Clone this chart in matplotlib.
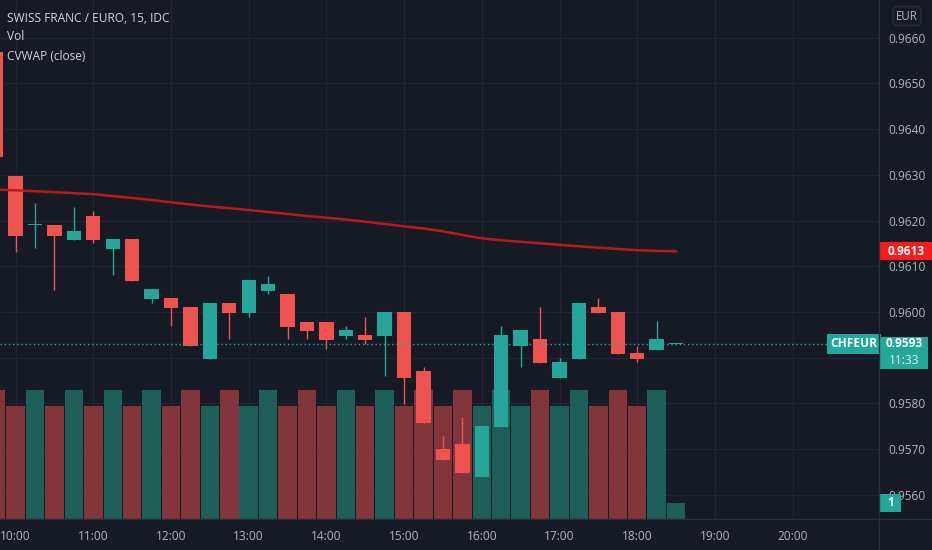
import pandas as pd
import matplotlib
matplotlib.use('Agg')
import matplotlib.pyplot as plt
import matplotlib.dates as mdates
from matplotlib import transforms
from matplotlib.lines import Line2D
from matplotlib.patches import Rectangle

plt.rcParams['font.family'] = ['Open Sans', 'DejaVu Sans']

# 15 min bars, CHF/EUR
times = ['09:45', '10:00', '10:15', '10:30', '10:45', '11:00', '11:15', '11:30', '11:45',
         '12:00', '12:15', '12:30', '12:45', '13:00', '13:15', '13:30', '13:45', '14:00',
         '14:15', '14:30', '14:45', '15:00', '15:15', '15:30', '15:45', '16:00', '16:15',
         '16:30', '16:45', '17:00', '17:15', '17:30', '17:45', '18:00', '18:15', '18:30']
opens = [0.96569, 0.96298, 0.96190, 0.96190, 0.96157, 0.96210, 0.96138, 0.96159, 0.96028,
         0.96030, 0.96010, 0.95897, 0.96020, 0.95998, 0.96047, 0.96039, 0.95979, 0.95979,
         0.95947, 0.95950, 0.95947, 0.96001, 0.95871, 0.95700, 0.95711, 0.95638, 0.95749,
         0.95926, 0.95941, 0.95856, 0.95898, 0.96010, 0.96000, 0.95910, 0.95917, 0.95930]
highs = [0.96569, 0.96298, 0.96238, 0.96190, 0.96230, 0.96220, 0.96159, 0.96159, 0.96050,
         0.96030, 0.96010, 0.96020, 0.96020, 0.96070, 0.96079, 0.96039, 0.95979, 0.95979,
         0.95969, 0.95988, 0.96001, 0.96001, 0.95880, 0.95729, 0.95771, 0.95751, 0.95970,
         0.95960, 0.96012, 0.95900, 0.96020, 0.96030, 0.96000, 0.95926, 0.95980, 0.95930]
lows = [0.96339, 0.96131, 0.96141, 0.96048, 0.96157, 0.96150, 0.96081, 0.96068, 0.96020,
        0.95969, 0.95926, 0.95897, 0.95941, 0.95990, 0.96040, 0.95940, 0.95940, 0.95919,
        0.95940, 0.95930, 0.95860, 0.95799, 0.95758, 0.95676, 0.95648, 0.95638, 0.95749,
        0.95880, 0.95888, 0.95856, 0.95898, 0.95998, 0.95907, 0.95890, 0.95917, 0.95930]
closes = [0.96339, 0.96167, 0.96192, 0.96167, 0.96178, 0.96157, 0.96159, 0.96068, 0.96050,
          0.96008, 0.95926, 0.96020, 0.95998, 0.96070, 0.96061, 0.95968, 0.95958, 0.95939,
          0.95961, 0.95938, 0.96001, 0.95856, 0.95758, 0.95676, 0.95648, 0.95751, 0.95950,
          0.95960, 0.95888, 0.95891, 0.96020, 0.95998, 0.95907, 0.95897, 0.95941, 0.95930]
volumes = [8, 7, 8, 7, 8, 7, 8, 7, 8, 7, 8, 7, 8, 7, 8, 7, 8, 7,
           8, 7, 8, 7, 8, 7, 8, 7, 8, 7, 8, 7, 8, 7, 8, 7, 8, 1]
cvwap = [0.962676, 0.962663, 0.962643, 0.962621, 0.962600, 0.962578, 0.962538, 0.962495,
         0.962451, 0.962400, 0.962352, 0.962309, 0.962270, 0.962232, 0.962188, 0.962144,
         0.962101, 0.962063, 0.962022, 0.961976, 0.961926, 0.961875, 0.961827, 0.961765,
         0.961685, 0.961612, 0.961569, 0.961536, 0.961503, 0.961468, 0.961438, 0.961407,
         0.961379, 0.961352, 0.961337, 0.961328]
price_ticks = [0.9560, 0.9570, 0.9580, 0.9590, 0.9600, 0.9610, 0.9620, 0.9630,
               0.9640, 0.9650, 0.9660]
hour_ticks = ['10:00', '11:00', '12:00', '13:00', '14:00', '15:00', '16:00', '17:00',
              '18:00', '19:00', '20:00']
countdown = '11:33'

bg = '#161a25'
grid_c = '#222632'
sep_c = '#2a2e39'
txt_c = '#b2b5be'
up_c = '#26a69a'
dn_c = '#ef5350'
up_vol = '#1e5e59'
dn_vol = '#813439'
vwap_c = '#b71c1c'
tag_teal = '#22a898'

day = '2021-06-01 '
x = mdates.date2num(pd.to_datetime([day + t for t in times]))
xt = mdates.date2num(pd.to_datetime([day + t for t in hour_ticks]))
slot = 15 / (24 * 60)
ymin, ymax = 0.95547, 0.966827

fig = plt.figure(figsize=(9.32, 5.5), dpi=100, facecolor=bg)
ax = fig.add_axes([0, 31 / 550, 879 / 932, 519 / 550])
ax.set_facecolor(bg)

is_up = [c >= o for o, c in zip(opens, closes)]
cols = [up_c if u else dn_c for u in is_up]
vcols = [up_vol if u else dn_vol for u in is_up]

# volume overlay, its own scale on the bottom of the pane
vol_top = 32.2
vtrans = transforms.blended_transform_factory(
    ax.transData, transforms.Affine2D().scale(1, 1 / vol_top) + ax.transAxes)
ax.bar(x, volumes, width=slot * 0.95, color=vcols, transform=vtrans, zorder=1)

# candles
pp = (ymax - ymin) / 519          # price per pixel
bottoms = [min(o, c) for o, c in zip(opens, closes)]
heights = [max(abs(c - o), pp * 1.2) for o, c in zip(opens, closes)]
ax.vlines(x, lows, highs, colors=cols, lw=1, zorder=2)
ax.bar(x, heights, bottom=bottoms, width=slot * 0.74, color=cols, zorder=3)

# CVWAP
ax.plot(x, cvwap, color=vwap_c, lw=1.8, zorder=4, solid_capstyle='round')

# last price line
ax.axhline(closes[-1], color=up_c, lw=1, ls=(0, (1, 2)), zorder=4)

ax.set_xlim(mdates.date2num(pd.Timestamp(day + '09:47:57')),
            mdates.date2num(pd.Timestamp(day + '21:06:43')))
ax.set_ylim(ymin, ymax)

ax.set_axisbelow(True)
ax.grid(True, color=grid_c, lw=0.9)
ax.set_yticks(price_ticks)
# 0.9590 sits under the last price tag
ax.set_yticklabels(['' if abs(p - 0.9590) < 1e-6 else f'{p:.4f}' for p in price_ticks])
ax.yaxis.tick_right()
ax.set_xticks(xt)
ax.set_xticklabels(hour_ticks)
ax.tick_params(axis='y', length=0, pad=7, labelcolor=txt_c, labelsize=8.6)
ax.tick_params(axis='x', length=0, pad=8, labelcolor=txt_c, labelsize=8.6)
for s in ax.spines.values():
    s.set_visible(False)

# pane separators
fig.add_artist(Line2D([879 / 932, 879 / 932], [0, 1], transform=fig.transFigure, color=sep_c, lw=1))
fig.add_artist(Line2D([0, 1], [31 / 550, 31 / 550], transform=fig.transFigure, color=sep_c, lw=1))

# legend texts
fig.text(7 / 932, 1 - 18 / 550, 'SWISS FRANC / EURO, 15, IDC', color='#d1d4dc', size=8.6, va='center')
fig.text(7 / 932, 1 - 37 / 550, 'Vol', color='#d1d4dc', size=8.6, va='center')
fig.text(7 / 932, 1 - 56 / 550, 'CVWAP (close)', color='#d1d4dc', size=8.6, va='center')
fig.text(907 / 932, 1 - 16 / 550, 'EUR', color=txt_c, size=8.3, va='center', ha='center',
         bbox=dict(boxstyle='round,pad=0.25,rounding_size=0.3', fc=bg, ec=sep_c, lw=1))

# price tags on the scale (x in axes fraction, y in price)
tr = transforms.blended_transform_factory(ax.transAxes, ax.transData)
px = 1 / 879                      # axes fraction per pixel

vw = cvwap[-1]
ax.add_patch(Rectangle((1 + px, vw - 9 * pp), 53 * px, 18 * pp, transform=tr,
                       fc='#f71c1c', ec='none', clip_on=False, zorder=10))
ax.text(1 + 27 * px, vw, f'{vw:.4f}', transform=tr, ha='center', va='center',
        color='white', weight='bold', size=8.6, clip_on=False, zorder=11)

last = closes[-1]
ax.add_patch(Rectangle((1 + px, last - 25 * pp), 48 * px, 32 * pp, transform=tr,
                       fc=tag_teal, ec='none', clip_on=False, zorder=10))
ax.text(1 + 25 * px, last, f'{last:.4f}', transform=tr, ha='center', va='center',
        color='white', weight='bold', size=8.6, clip_on=False, zorder=11)
ax.text(1 + 25 * px, last - 17 * pp, countdown, transform=tr, ha='center', va='center',
        color='#dff3f0', size=8.6, clip_on=False, zorder=11)
ax.text(0.9985, last, 'CHFEUR', transform=tr, ha='right', va='center', color='white',
        weight='bold', size=8.6, zorder=10,
        bbox=dict(boxstyle='square,pad=0.3', fc=tag_teal, ec='none'))

# volume value tag
vtr = transforms.blended_transform_factory(ax.transAxes, vtrans)
vp = vol_top / 519                # volume units per pixel
ax.add_patch(Rectangle((1 + px, volumes[-1] - 9 * vp), 21 * px, 18 * vp, transform=vtr,
                       fc=tag_teal, ec='none', clip_on=False, zorder=10))
ax.text(1 + 11.5 * px, volumes[-1], str(volumes[-1]), transform=vtr, ha='center', va='center',
        color='white', weight='bold', size=8.6, clip_on=False, zorder=11)

fig.savefig('out.png', dpi=100, facecolor=bg)
